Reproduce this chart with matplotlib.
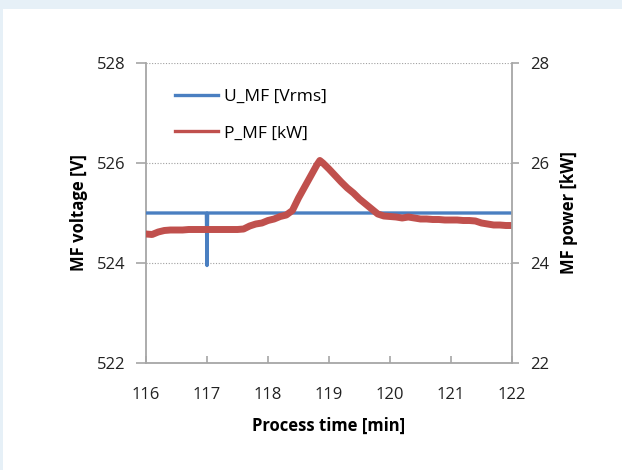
import matplotlib
matplotlib.use("Agg")
import matplotlib.pyplot as plt
from matplotlib.patches import Rectangle
from matplotlib.lines import Line2D

# data
u_time = [116.0, 116.99, 117.0, 117.01, 122.0]
u_volt = [525.0, 525.0, 523.95, 525.0, 525.0]

p_time = [116.0, 116.1, 116.2, 116.3, 116.4, 116.5, 116.6, 116.7, 116.8, 116.9,
          117.0, 117.1, 117.2, 117.3, 117.4, 117.5, 117.6, 117.7, 117.8, 117.9,
          118.0, 118.1, 118.2, 118.3, 118.4, 118.5, 118.6, 118.7, 118.8, 118.85,
          118.9, 119.0, 119.1, 119.2, 119.3, 119.4, 119.5, 119.6, 119.7, 119.8,
          119.9, 120.0, 120.1, 120.2, 120.3, 120.4, 120.5, 120.6, 120.7, 120.8,
          120.9, 121.0, 121.1, 121.2, 121.3, 121.4, 121.5, 121.6, 121.7, 121.8,
          121.9, 122.0]
p_kw = [24.58, 24.57, 24.62, 24.65, 24.66, 24.66, 24.66, 24.67, 24.67, 24.67,
        24.67, 24.67, 24.67, 24.67, 24.67, 24.67, 24.68, 24.74, 24.78, 24.80,
        24.85, 24.88, 24.93, 24.96, 25.05, 25.30, 25.52, 25.74, 25.96, 26.05,
        26.00, 25.88, 25.75, 25.62, 25.50, 25.40, 25.28, 25.18, 25.08, 24.98,
        24.94, 24.93, 24.92, 24.90, 24.92, 24.90, 24.88, 24.88, 24.87, 24.87,
        24.86, 24.86, 24.86, 24.85, 24.85, 24.84, 24.80, 24.78, 24.76, 24.76,
        24.75, 24.75]

x_ticks = [116, 117, 118, 119, 120, 121, 122]
v_ticks = [522, 524, 526, 528]
p_ticks = [22, 24, 26, 28]

plt.rcParams['font.family'] = ['Open Sans', 'DejaVu Sans']

fig = plt.figure(figsize=(6.22, 4.70), dpi=100)
fig.patch.set_facecolor("#e6f0f7")
fig.patches.append(Rectangle((3 / 622, 0), 1, (470 - 9) / 470, transform=fig.transFigure,
                             facecolor="white", edgecolor="none", zorder=-10))

ax = fig.add_axes([146 / 622, 1 - 363 / 470, 366 / 622, 300 / 470])
ax.set_facecolor("none")
ax2 = ax.twinx()

blue = "#4a7fc1"
red = "#c0504d"
axis_gray = "#a6a6a6"
ax.plot(u_time, u_volt, color=blue, lw=2.4, zorder=3)
ax2.plot(p_time, p_kw, color=red, lw=5, zorder=2)

ax.set_xlim(116, 122)
ax.set_ylim(522, 528)
ax2.set_ylim(22, 28)
ax.set_xticks(x_ticks)
ax.set_yticks(v_ticks)
ax2.set_yticks(p_ticks)

for y in v_ticks[1:]:
    ax.axhline(y, color="#a0a0a0", lw=0.8, ls=(0, (1, 1.5)), zorder=1)

for a in (ax, ax2):
    a.spines["top"].set_visible(False)
    for s in ("left", "right", "bottom"):
        a.spines[s].set_color(axis_gray)
        a.spines[s].set_linewidth(1.3)
ax.spines["right"].set_visible(False)
ax2.spines["left"].set_visible(False)
ax2.spines["bottom"].set_visible(False)

ax.tick_params(axis="y", direction="out", length=7, width=1.2, color=axis_gray,
               labelsize=12, pad=8, labelcolor="#222222")
ax2.tick_params(axis="y", direction="out", length=5, width=1.2, color=axis_gray,
                labelsize=12, pad=8, labelcolor="#222222")
ax.tick_params(axis="x", direction="in", length=5, width=1.2, color=axis_gray,
               labelsize=12, pad=17, labelcolor="#222222")

ax.set_xlabel("Process time [min]", fontsize=12, fontweight="bold", labelpad=10)
ax.set_ylabel("MF voltage [V]", fontsize=12, fontweight="bold", labelpad=6)
ax2.set_ylabel("MF power [kW]", fontsize=12, fontweight="bold", labelpad=8)

handles = [Line2D([], [], color=blue, lw=2.4), Line2D([], [], color=red, lw=2.4)]
ax.legend(handles, ["U_MF [Vrms]", "P_MF [kW]"], loc="upper left",
          bbox_to_anchor=(0.079, 0.913), borderaxespad=0, borderpad=0,
          frameon=False, fontsize=12.5, handlelength=2.5, handletextpad=0.3,
          labelspacing=1.15)

fig.savefig("out.png", dpi=100, facecolor=fig.get_facecolor())
